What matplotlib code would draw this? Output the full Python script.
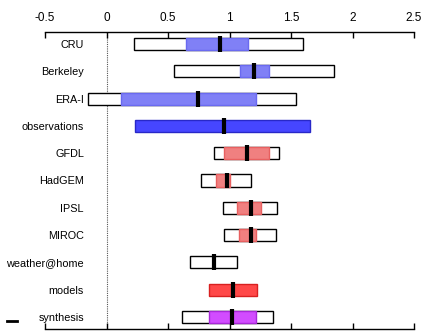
import matplotlib
matplotlib.use("Agg")
import matplotlib.pyplot as plt
from matplotlib.lines import Line2D

labels = ["CRU", "Berkeley", "ERA-I", "observations", "GFDL", "HadGEM",
          "IPSL", "MIROC", "weather@home", "models", "synthesis"]
outer_lo = [0.226, 0.551, -0.153, None, 0.877, 0.771, 0.950, 0.955, 0.681, None, 0.616]
outer_hi = [1.600, 1.852, 1.543, None, 1.402, 1.172, 1.384, 1.376, 1.063, None, 1.351]
inner_lo = [0.644, 1.085, 0.115, 0.232, 0.955, 0.888, 1.059, 1.080, None, 0.833, 0.831]
inner_hi = [1.153, 1.324, 1.213, 1.652, 1.321, 1.002, 1.254, 1.213, None, 1.224, 1.213]
best = [0.925, 1.202, 0.741, 0.958, 1.142, 0.982, 1.172, 1.172, 0.874, 1.031, 1.020]
face = ["#8080f6", "#8080f6", "#8080f6", "#4646ff", "#f08080", "#f08080",
        "#f08080", "#f08080", None, "#ff4848", "#d24cff"]
edge = ["#6a6af0", "#6a6af0", "#6a6af0", "#2828c8", "#e86060", "#e86060",
        "#e86060", "#e86060", None, "#d82020", "#a828d8"]
xticks = [-0.5, 0, 0.5, 1, 1.5, 2, 2.5]
xticklabels = ["-0.5", "0", "0.5", "1", "1.5", "2", "2.5"]

plt.rcParams['font.family'] = ['Liberation Sans', 'DejaVu Sans']
fig = plt.figure(figsize=(4.23, 3.31), dpi=100)
W, H = 423, 331
ax = fig.add_axes([45 / W, 1 - 329 / H, (414 - 45) / W, (329 - 32) / H])

n = len(labels)
h = 0.44
for i in range(n):
    y = i
    if outer_lo[i] is not None:
        ax.barh(y, outer_hi[i] - outer_lo[i], left=outer_lo[i], height=h,
                color="white", edgecolor="black", linewidth=1.0, zorder=2)
    if inner_lo[i] is not None:
        ax.barh(y, inner_hi[i] - inner_lo[i], left=inner_lo[i], height=h,
                color=face[i], edgecolor=edge[i], linewidth=1.0, zorder=3)
    ax.plot([best[i], best[i]], [y - 0.29, y + 0.29], color="black",
            linewidth=3.0, solid_capstyle="butt", zorder=4)

ax.axvline(0, color="#555555", linestyle=(0, (1, 1)), linewidth=0.8, zorder=1)

ax.set_xlim(-0.5, 2.5)
ax.set_ylim(n - 1 + 0.44, -0.44)
ax.set_yticks(range(n))
ax.set_yticklabels(labels, fontsize=7.8)
ax.tick_params(axis="y", length=0, pad=-28)
ax.set_xticks(xticks)
ax.set_xticklabels(xticklabels, fontsize=8.5)
ax.tick_params(axis="x", top=True, bottom=True, labeltop=True, labelbottom=False,
               direction="in", length=4, width=1, pad=6)
for s in ["left", "right"]:
    ax.spines[s].set_visible(False)
for s in ["top", "bottom"]:
    ax.spines[s].set_linewidth(1)

for lbl in ax.get_yticklabels():
    lbl.set_horizontalalignment("right")

fig.add_artist(Line2D([7 / W, 17 / W], [1 - 321 / H, 1 - 321 / H],
                      color="black", linewidth=2))

fig.savefig("out.png", dpi=100)
